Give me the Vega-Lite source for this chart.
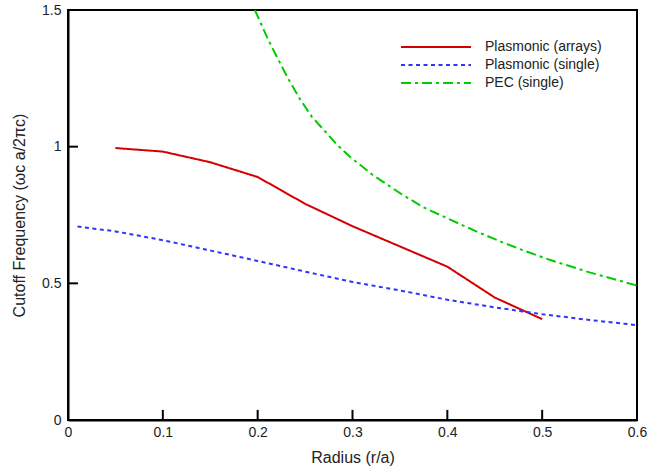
{
  "$schema": "https://vega.github.io/schema/vega-lite/v6.json",
  "width": 569,
  "height": 410,
  "autosize": {"type": "none"},
  "padding": {"left": 68, "top": 10, "right": 10, "bottom": 52},
  "background": "white",
  "config": {
    "view": {"stroke": "black", "strokeWidth": 2},
    "font": "Liberation Sans",
    "axis": {
      "grid": false,
      "ticks": false,
      "domainColor": "black",
      "domainWidth": 2,
      "labelFont": "Liberation Sans",
      "labelFontSize": 14,
      "labelColor": "#222",
      "titleFont": "Liberation Sans",
      "titleFontSize": 16,
      "titleFontWeight": "normal",
      "titleColor": "#222"
    }
  },
  "datasets": {
    "curves": [
      {"series": "Plasmonic (arrays)", "r": 0.05, "f": 0.995},
      {"series": "Plasmonic (arrays)", "r": 0.1, "f": 0.982},
      {"series": "Plasmonic (arrays)", "r": 0.15, "f": 0.943},
      {"series": "Plasmonic (arrays)", "r": 0.2, "f": 0.889},
      {"series": "Plasmonic (arrays)", "r": 0.25, "f": 0.791},
      {"series": "Plasmonic (arrays)", "r": 0.3, "f": 0.709},
      {"series": "Plasmonic (arrays)", "r": 0.35, "f": 0.635},
      {"series": "Plasmonic (arrays)", "r": 0.4, "f": 0.561},
      {"series": "Plasmonic (arrays)", "r": 0.45, "f": 0.448},
      {"series": "Plasmonic (arrays)", "r": 0.5, "f": 0.369},
      {"series": "Plasmonic (single)", "r": 0.01, "f": 0.708},
      {"series": "Plasmonic (single)", "r": 0.05, "f": 0.69},
      {"series": "Plasmonic (single)", "r": 0.1, "f": 0.658},
      {"series": "Plasmonic (single)", "r": 0.15, "f": 0.62},
      {"series": "Plasmonic (single)", "r": 0.2, "f": 0.582},
      {"series": "Plasmonic (single)", "r": 0.25, "f": 0.543},
      {"series": "Plasmonic (single)", "r": 0.3, "f": 0.505},
      {"series": "Plasmonic (single)", "r": 0.35, "f": 0.474},
      {"series": "Plasmonic (single)", "r": 0.4, "f": 0.44},
      {"series": "Plasmonic (single)", "r": 0.45, "f": 0.412},
      {"series": "Plasmonic (single)", "r": 0.5, "f": 0.387},
      {"series": "Plasmonic (single)", "r": 0.55, "f": 0.366},
      {"series": "Plasmonic (single)", "r": 0.6, "f": 0.347},
      {"series": "PEC (single)", "r": 0.197, "f": 1.5},
      {"series": "PEC (single)", "r": 0.21, "f": 1.4},
      {"series": "PEC (single)", "r": 0.22, "f": 1.33},
      {"series": "PEC (single)", "r": 0.232, "f": 1.25},
      {"series": "PEC (single)", "r": 0.245, "f": 1.172},
      {"series": "PEC (single)", "r": 0.257, "f": 1.11},
      {"series": "PEC (single)", "r": 0.27, "f": 1.06},
      {"series": "PEC (single)", "r": 0.283, "f": 1.01},
      {"series": "PEC (single)", "r": 0.297, "f": 0.964},
      {"series": "PEC (single)", "r": 0.32, "f": 0.9},
      {"series": "PEC (single)", "r": 0.35, "f": 0.83},
      {"series": "PEC (single)", "r": 0.375, "f": 0.778},
      {"series": "PEC (single)", "r": 0.403, "f": 0.733},
      {"series": "PEC (single)", "r": 0.43, "f": 0.691},
      {"series": "PEC (single)", "r": 0.456, "f": 0.653},
      {"series": "PEC (single)", "r": 0.482, "f": 0.618},
      {"series": "PEC (single)", "r": 0.508, "f": 0.586},
      {"series": "PEC (single)", "r": 0.55, "f": 0.54},
      {"series": "PEC (single)", "r": 0.6, "f": 0.492}
    ],
    "xticks": [{"v": 0.1, "y0": 0, "y1": 0.037}, {"v": 0.2, "y0": 0, "y1": 0.037}, {"v": 0.3, "y0": 0, "y1": 0.037}, {"v": 0.4, "y0": 0, "y1": 0.037}, {"v": 0.5, "y0": 0, "y1": 0.037}],
    "yticks": [{"v": 0.5, "x0": 0, "x1": 0.0105}, {"v": 1, "x0": 0, "x1": 0.0105}]
  },
  "layer": [
    {
      "data": {"name": "curves"},
      "mark": {"type": "line", "strokeWidth": 2, "clip": true},
      "encoding": {
        "x": {
          "field": "r", "type": "quantitative",
          "scale": {"domain": [0, 0.6], "nice": false},
          "axis": {"values": [0, 0.1, 0.2, 0.3, 0.4, 0.5, 0.6], "format": "~g", "title": "Radius (r/a)", "labelPadding": 5, "titlePadding": 10, "labelFlush": false}
        },
        "y": {
          "field": "f", "type": "quantitative",
          "scale": {"domain": [0, 1.5], "nice": false},
          "axis": {"values": [0, 0.5, 1, 1.5], "format": "~g", "title": "Cutoff Frequency (ωc a/2πc)", "labelPadding": 7, "titlePadding": 14, "labelFlush": false}
        },
        "color": {
          "field": "series", "type": "nominal",
          "scale": {"domain": ["Plasmonic (arrays)", "Plasmonic (single)", "PEC (single)"], "range": ["#d40000", "#3333ff", "#00cc00"]},
          "legend": {
            "title": null,
            "orient": "none",
            "legendX": 360,
            "legendY": 29,
            "symbolType": "M-5,0H5",
            "symbolSize": 196,
            "symbolStrokeWidth": 2,
            "labelFont": "Liberation Sans",
            "labelFontSize": 14,
            "labelColor": "#222",
            "labelOffset": 41,
            "rowPadding": 3
          }
        },
        "strokeDash": {
          "field": "series", "type": "nominal",
          "scale": {"domain": ["Plasmonic (arrays)", "Plasmonic (single)", "PEC (single)"], "range": [[1, 0], [4, 3.5], [10, 4, 3, 4]]},
          "legend": null
        }
      }
    },
    {
      "data": {"name": "xticks"},
      "mark": {"type": "rule", "strokeWidth": 2, "color": "black"},
      "encoding": {
        "x": {"field": "v", "type": "quantitative"},
        "y": {"field": "y0", "type": "quantitative"},
        "y2": {"field": "y1"}
      }
    },
    {
      "data": {"name": "yticks"},
      "mark": {"type": "rule", "strokeWidth": 2, "color": "black"},
      "encoding": {
        "y": {"field": "v", "type": "quantitative"},
        "x": {"field": "x0", "type": "quantitative"},
        "x2": {"field": "x1"}
      }
    }
  ]
}
